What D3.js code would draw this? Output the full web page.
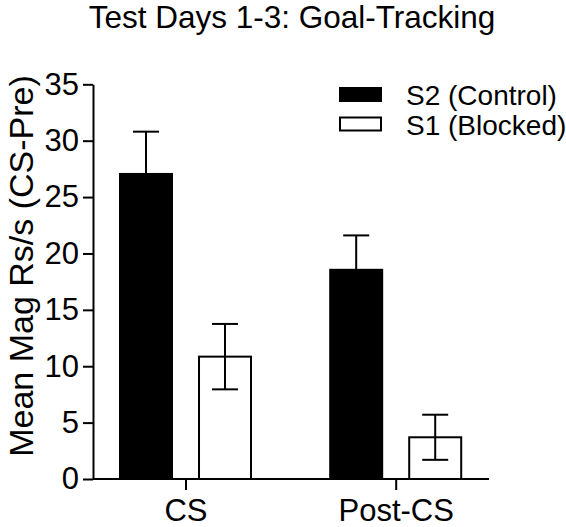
<!DOCTYPE html>
<html>
<head>
<meta charset="utf-8">
<script src="https://cdn.jsdelivr.net/npm/d3@7"></script>
<style>
  html, body { margin: 0; padding: 0; background: #fff; }
  svg { display: block; font-family: "Liberation Sans", Arial, sans-serif; }
</style>
</head>
<body>
<svg id="chart" width="566" height="527"></svg>
<script>
const categories = ["CS", "Post-CS"];
const seriesNames = ["S2 (Control)", "S1 (Blocked)"];
const s2Means = [27.05, 18.55];
const s2Errors = [3.75, 3.05];
const s1Means = [10.85, 3.7];
const s1Errors = [2.9, 2.0];
const yTicks = [0, 5, 10, 15, 20, 25, 30, 35];
const seriesFill = ["#000000", "#ffffff"];

const svg = d3.select("#chart");
const axisLeftX = 93, axisRightX = 489;

const y = d3.scaleLinear().domain([0, 35]).range([479, 84.3]);
const x = d3.scalePoint().domain(categories).range([185.5, 395.7]);
const xs = d3.scaleBand().domain(seriesNames).range([-65.5, 65.5]).paddingInner(0.342);

const data = [];
categories.forEach((c, i) => {
  data.push({cat: c, s: seriesNames[0], v: s2Means[i], e: s2Errors[i], fill: seriesFill[0]});
  data.push({cat: c, s: seriesNames[1], v: s1Means[i], e: s1Errors[i], fill: seriesFill[1]});
});

const g = svg.append("g");

// bars
g.selectAll("rect.bar").data(data).enter().append("rect")
  .attr("class", "bar")
  .attr("x", d => x(d.cat) + xs(d.s))
  .attr("y", d => y(d.v))
  .attr("width", xs.bandwidth())
  .attr("height", d => y(0) - y(d.v))
  .attr("fill", d => d.fill)
  .attr("stroke", "#000")
  .attr("stroke-width", 2);

// error bars
const capW = 26;
const eb = g.selectAll("g.err").data(data).enter().append("g").attr("class", "err")
  .attr("stroke", "#000").attr("stroke-width", 2);
eb.append("line")
  .attr("x1", d => x(d.cat) + xs(d.s) + xs.bandwidth() / 2)
  .attr("x2", d => x(d.cat) + xs(d.s) + xs.bandwidth() / 2)
  .attr("y1", d => y(d.v + d.e))
  .attr("y2", d => y(d.v - d.e));
eb.append("line")
  .attr("x1", d => x(d.cat) + xs(d.s) + xs.bandwidth() / 2 - capW / 2)
  .attr("x2", d => x(d.cat) + xs(d.s) + xs.bandwidth() / 2 + capW / 2)
  .attr("y1", d => y(d.v + d.e))
  .attr("y2", d => y(d.v + d.e));
eb.append("line")
  .attr("x1", d => x(d.cat) + xs(d.s) + xs.bandwidth() / 2 - capW / 2)
  .attr("x2", d => x(d.cat) + xs(d.s) + xs.bandwidth() / 2 + capW / 2)
  .attr("y1", d => y(d.v - d.e))
  .attr("y2", d => y(d.v - d.e));

// y axis
const yAxis = svg.append("g")
  .attr("transform", `translate(${axisLeftX},0)`)
  .call(d3.axisLeft(y).tickValues(yTicks).tickSize(10).tickPadding(4).tickSizeOuter(0));
yAxis.select(".domain").attr("stroke-width", 2);
yAxis.selectAll(".tick line").attr("stroke-width", 2);
yAxis.selectAll(".tick text").attr("font-size", 31).attr("fill", "#000")
  .attr("font-family", "'Liberation Sans', Arial, sans-serif");

// x axis
const xAxis = svg.append("g")
  .attr("transform", `translate(0,${y(0)})`)
  .call(d3.axisBottom(x).tickSize(11).tickPadding(9));
xAxis.select(".domain").remove();
xAxis.append("line")
  .attr("x1", axisLeftX).attr("x2", axisRightX)
  .attr("y1", 0).attr("y2", 0)
  .attr("stroke", "#000").attr("stroke-width", 2);
xAxis.selectAll(".tick line").attr("stroke-width", 2);
xAxis.selectAll(".tick text").attr("font-size", 31).attr("fill", "#000")
  .attr("font-family", "'Liberation Sans', Arial, sans-serif");

// title
svg.append("text")
  .attr("x", 292).attr("y", 28)
  .attr("text-anchor", "middle")
  .attr("font-size", 31.5)
  .text("Test Days 1-3: Goal-Tracking");

// y label
svg.append("text")
  .attr("transform", "rotate(-90)")
  .attr("x", -266).attr("y", 33)
  .attr("text-anchor", "middle")
  .attr("font-size", 34)
  .text("Mean Mag Rs/s (CS-Pre)");

// legend
const legend = svg.append("g");
seriesNames.forEach((name, i) => {
  const ly = 88 + i * 29.5;
  legend.append("rect")
    .attr("x", 340).attr("y", ly)
    .attr("width", 41).attr("height", 13)
    .attr("fill", seriesFill[i])
    .attr("stroke", "#000").attr("stroke-width", 2);
  legend.append("text")
    .attr("x", 406).attr("y", ly + 17)
    .attr("font-size", 28)
    .text(name);
});
</script>
</body>
</html>
